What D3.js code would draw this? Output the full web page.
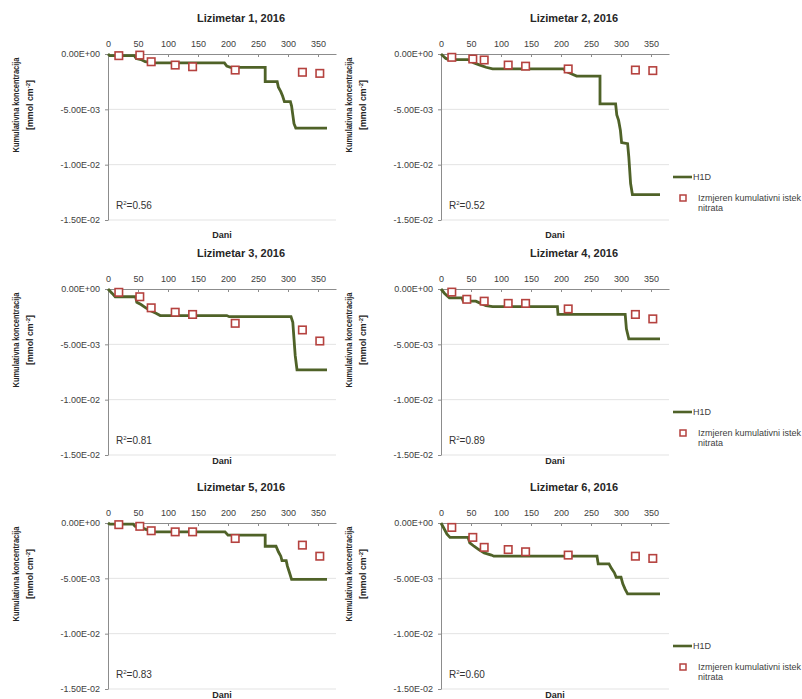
<!DOCTYPE html>
<html>
<head>
<meta charset="utf-8">
<script src="https://cdn.jsdelivr.net/npm/d3@7/dist/d3.min.js"></script>
<style>
  html, body { margin: 0; padding: 0; background: #ffffff; }
  svg { display: block; font-family: "Liberation Sans", Arial, sans-serif; }
</style>
</head>
<body>
<svg id="chart" width="802" height="699"></svg>
<script>
// ---------------- DATA ----------------
const titles = ["Lizimetar 1, 2016", "Lizimetar 2, 2016", "Lizimetar 3, 2016",
                "Lizimetar 4, 2016", "Lizimetar 5, 2016", "Lizimetar 6, 2016"];
const r2Values = ["0.56", "0.52", "0.81", "0.89", "0.83", "0.60"];
const xTicks = [0, 50, 100, 150, 200, 250, 300, 350];
const yTicks = [0, -0.005, -0.01, -0.015];
const xLabel = "Dani";
const yLabelLine1 = "Kumulativna koncentracija";
const legendModel = "H1D";
const legendMeasured1 = "Izmjeren kumulativni istek";
const legendMeasured2 = "nitrata";

// measurement days
const measDays = [18, 53, 72, 112, 141, 212, 324, 353];
const measDaysL4 = [18, 43, 72, 112, 141, 212, 324, 353];

// measured cumulative leaching (mmol cm-2)
const meas1 = [-0.00015, -0.0001, -0.0007, -0.001, -0.00115, -0.00145, -0.00165, -0.00175];
const meas2 = [-0.0003, -0.00045, -0.00054, -0.001, -0.0011, -0.00135, -0.00145, -0.0015];
const meas3 = [-0.0003, -0.0007, -0.0017, -0.0021, -0.0023, -0.0031, -0.0037, -0.0047];
const meas4 = [-0.00028, -0.00093, -0.0011, -0.0013, -0.0013, -0.0018, -0.0023, -0.0027];
const meas5 = [-0.00015, -0.0003, -0.0007, -0.0008, -0.0008, -0.0014, -0.002, -0.003];
const meas6 = [-0.0004, -0.0013, -0.0022, -0.0024, -0.0026, -0.0029, -0.003, -0.0032];

// H1D simulated cumulative leaching: [day, value]
const h1d1 = [[0,0],[3,-0.00015],[44,-0.00015],[47,-0.0004],[55,-0.0005],[62,-0.0007],[76,-0.0008],[194,-0.0008],[198,-0.0011],[204,-0.0012],[262,-0.0012],[262,-0.0025],[282,-0.0025],[284,-0.003],[288,-0.0034],[291,-0.0038],[294,-0.0043],[304,-0.0043],[306,-0.0047],[308,-0.0055],[310,-0.0063],[313,-0.0067],[365,-0.0067]];
const h1d2 = [[0,0],[8,-0.0004],[13,-0.0005],[45,-0.0005],[55,-0.0008],[65,-0.001],[75,-0.0012],[86,-0.00135],[204,-0.00135],[210,-0.0016],[218,-0.0018],[226,-0.002],[265,-0.002],[265,-0.0045],[291,-0.0045],[293,-0.0055],[296,-0.006],[299,-0.0069],[301,-0.008],[311,-0.0081],[313,-0.0093],[316,-0.0117],[319,-0.0127],[365,-0.0127]];
const h1d3 = [[0,0],[7,-0.0004],[12,-0.0007],[46,-0.0007],[48,-0.0012],[55,-0.0014],[63,-0.0017],[72,-0.002],[80,-0.0022],[87,-0.0024],[198,-0.0024],[202,-0.0025],[305,-0.0025],[308,-0.003],[310,-0.0045],[312,-0.006],[315,-0.0073],[365,-0.0073]];
const h1d4 = [[0,0],[6,-0.0004],[14,-0.0008],[35,-0.0008],[37,-0.0011],[58,-0.0011],[66,-0.0013],[75,-0.0015],[86,-0.0016],[194,-0.0016],[195,-0.0023],[307,-0.0023],[309,-0.0036],[313,-0.0045],[365,-0.0045]];
const h1d5 = [[0,0],[3,-0.0001],[42,-0.0001],[45,-0.0003],[55,-0.0004],[64,-0.0006],[78,-0.0008],[195,-0.0008],[200,-0.0011],[262,-0.0011],[262,-0.0021],[280,-0.0021],[284,-0.0026],[288,-0.003],[290,-0.0034],[297,-0.0034],[299,-0.0039],[302,-0.0044],[306,-0.0051],[365,-0.0051]];
const h1d6 = [[0,0],[5,-0.0005],[10,-0.001],[15,-0.0013],[45,-0.0013],[48,-0.0018],[55,-0.0021],[63,-0.0024],[72,-0.0027],[84,-0.0029],[88,-0.003],[260,-0.003],[262,-0.0037],[280,-0.0037],[284,-0.0041],[289,-0.0045],[292,-0.0049],[300,-0.0049],[303,-0.0055],[307,-0.006],[311,-0.0064],[365,-0.0064]];

const panels = [
  { title: titles[0], r2: r2Values[0], h1d: h1d1, days: measDays,   meas: meas1 },
  { title: titles[1], r2: r2Values[1], h1d: h1d2, days: measDays,   meas: meas2 },
  { title: titles[2], r2: r2Values[2], h1d: h1d3, days: measDays,   meas: meas3 },
  { title: titles[3], r2: r2Values[3], h1d: h1d4, days: measDaysL4, meas: meas4 },
  { title: titles[4], r2: r2Values[4], h1d: h1d5, days: measDays,   meas: meas5 },
  { title: titles[5], r2: r2Values[5], h1d: h1d6, days: measDays,   meas: meas6 }
];

// ---------------- LAYOUT ----------------
const colX = [108, 441];
const rowY = [54, 289, 523];
const daniOffset = [181, 172, 172];
const plotW = 228, plotH = 166;
const lineColor = "#4f6228";
const markColor = "#b5423f";
const textColor = "#404040";

function fmtE(v) {
  const s = v.toExponential(2).toUpperCase();
  const [m, e] = s.split("E");
  const sign = e[0] === "-" ? "-" : "+";
  const digits = e.replace(/[+-]/, "").padStart(2, "0");
  return m + "E" + sign + digits;
}

const svg = d3.select("#chart");

panels.forEach((p, i) => {
  const col = i % 2, row = Math.floor(i / 2);
  const x0 = colX[col], y0 = rowY[row];
  const x = d3.scaleLinear().domain([0, 380]).range([x0, x0 + plotW]);
  const y = d3.scaleLinear().domain([0, -0.015]).range([y0, y0 + plotH]);
  const g = svg.append("g");

  // gridlines
  g.selectAll("line.grid").data(yTicks.filter(t => t !== 0)).enter().append("line")
    .attr("x1", x0).attr("x2", x0 + plotW)
    .attr("y1", d => y(d)).attr("y2", d => y(d))
    .attr("stroke", "#e3e3e3").attr("stroke-width", 1);

  // axes
  const xa = g.append("g").attr("transform", `translate(0,${y0})`)
    .call(d3.axisTop(x).tickValues(xTicks).tickSizeInner(-3).tickSizeOuter(0).tickPadding(7).tickFormat(d3.format("d")));
  const ya = g.append("g").attr("transform", `translate(${x0},0)`)
    .call(d3.axisLeft(y).tickValues(yTicks).tickSizeInner(3).tickSizeOuter(0).tickPadding(5).tickFormat(fmtE));
  [xa, ya].forEach(a => {
    a.select(".domain").attr("stroke", "#8c8c8c");
    a.selectAll(".tick line").attr("stroke", "#8c8c8c");
    a.selectAll(".tick text").attr("fill", textColor)
      .style("font-family", '"Liberation Sans", Arial, sans-serif').style("font-size", "9px");
  });

  // H1D line
  const line = d3.line().x(d => x(d[0])).y(d => y(d[1]));
  g.append("path").datum(p.h1d).attr("d", line)
    .attr("fill", "none").attr("stroke", lineColor).attr("stroke-width", 2.8)
    .attr("stroke-linejoin", "miter");

  // measured squares
  const sq = 7.5;
  g.selectAll("rect.meas").data(p.days.map((d, k) => [d, p.meas[k]])).enter().append("rect")
    .attr("x", d => x(d[0]) - sq / 2).attr("y", d => y(d[1]) - sq / 2)
    .attr("width", sq).attr("height", sq)
    .attr("fill", "#ffffff").attr("stroke", markColor).attr("stroke-width", 1.6);

  // title
  g.append("text").attr("x", x0 + 133).attr("y", y0 - 32)
    .attr("text-anchor", "middle").attr("font-weight", "bold").attr("font-size", 11)
    .attr("fill", "#262626").text(p.title);

  // x-axis title
  g.append("text").attr("x", x0 + plotW / 2).attr("y", y0 + daniOffset[row] + 3)
    .attr("text-anchor", "middle").attr("font-weight", "bold").attr("font-size", 9)
    .attr("fill", "#262626").text(xLabel);

  // y-axis title (two lines, rotated)
  const cy = y0 + 51;
  g.append("text").attr("transform", `translate(${x0 - 89},${cy}) rotate(-90)`)
    .attr("text-anchor", "middle").attr("font-weight", "bold").attr("font-size", 8.8)
    .attr("textLength", 95).attr("lengthAdjust", "spacingAndGlyphs")
    .attr("fill", "#262626").text(yLabelLine1);
  const yt2 = g.append("text").attr("transform", `translate(${x0 - 75},${cy}) rotate(-90)`)
    .attr("text-anchor", "middle").attr("font-weight", "bold").attr("font-size", 8.8)
    .attr("fill", "#262626");
  yt2.append("tspan").text("[mmol cm");
  yt2.append("tspan").attr("font-size", 6).attr("dy", -3.5).text("-2");
  yt2.append("tspan").attr("dy", 3.5).text("]");

  // R2 annotation
  const rt = g.append("text").attr("x", x0 + 8).attr("y", y0 + 155)
    .attr("font-size", 10).attr("fill", "#333333");
  rt.append("tspan").text("R");
  rt.append("tspan").attr("font-size", 6).attr("dy", -4).text("2");
  rt.append("tspan").attr("dy", 4).text("=" + p.r2);

  // legend (right column only)
  if (col === 1) {
    const lx = x0 + plotW + 4;
    const ly = y0 + 123;
    g.append("line").attr("x1", lx).attr("x2", lx + 19).attr("y1", ly).attr("y2", ly)
      .attr("stroke", lineColor).attr("stroke-width", 2.6);
    g.append("text").attr("x", lx + 20).attr("y", ly + 3).attr("font-size", 9)
      .attr("fill", textColor).text(legendModel);
    const my = y0 + 144;
    g.append("rect").attr("x", lx + 10 - 3).attr("y", my - 3).attr("width", 6).attr("height", 6)
      .attr("fill", "#ffffff").attr("stroke", markColor).attr("stroke-width", 1.5);
    g.append("text").attr("x", lx + 25).attr("y", my + 3).attr("font-size", 9)
      .attr("fill", textColor).text(legendMeasured1);
    g.append("text").attr("x", lx + 25).attr("y", my + 13).attr("font-size", 9)
      .attr("fill", textColor).text(legendMeasured2);
  }
});
</script>
</body>
</html>
